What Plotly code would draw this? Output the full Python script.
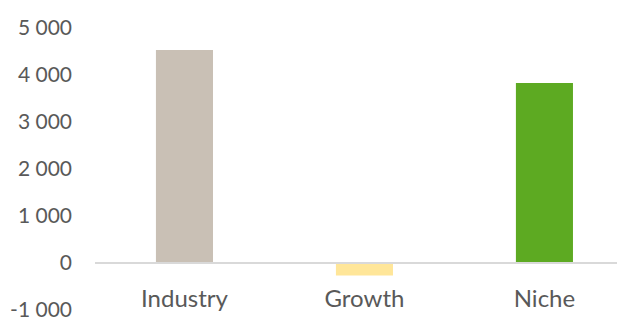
import plotly.graph_objects as go

categories = ["Industry", "Growth", "Niche"]
values = [4530, -270, 3830]
colors = ["#C9C0B5", "#FFE699", "#5DAA22"]
tick_vals = [-1000, 0, 1000, 2000, 3000, 4000, 5000]
tick_text = ["-1 000", "0", "1 000", "2 000", "3 000", "4 000", "5 000"]

fig = go.Figure(go.Bar(x=categories, y=values, marker_color=colors, marker_line_width=0))

yfont = dict(family="Lato, Open Sans, sans-serif", size=21, color="#595959")
xfont = dict(family="Lato, Open Sans, sans-serif", size=24, color="#595959")
fig.update_layout(
    width=617, height=310,
    margin=dict(l=87, r=1, t=20, b=8, autoexpand=False),
    paper_bgcolor="white", plot_bgcolor="white",
    bargap=0.683,
    showlegend=False,
    font=yfont,
)
fig.update_xaxes(
    range=[-0.497, 2.442],
    anchor="free", position=1/6,
    showline=True, linecolor="#D9D9D9", linewidth=1.5,
    showgrid=False, zeroline=False,
    ticks="", ticklabelstandoff=14,
    tickfont=xfont, automargin=False,
)
fig.update_yaxes(
    range=[-1002, 5000],
    tickvals=tick_vals, ticktext=tick_text,
    showgrid=False, zeroline=False, showline=False,
    ticks="", ticklabelstandoff=22, ticklabeloverflow="allow",
    tickfont=yfont, automargin=False,
)
fig.write_html("out.html")
